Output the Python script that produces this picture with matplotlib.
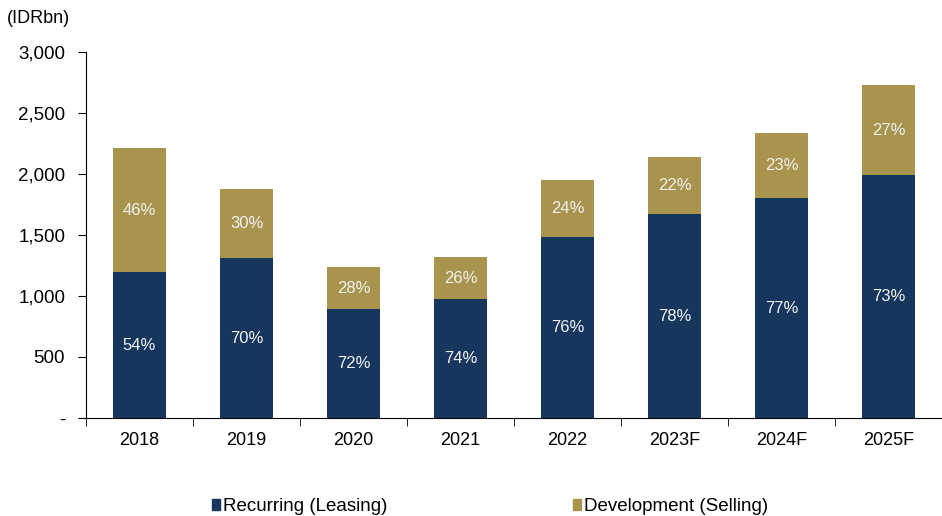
import numpy as np
import matplotlib.pyplot as plt
from matplotlib.patches import Patch
from matplotlib.ticker import FuncFormatter, FixedLocator

plt.rcParams['font.family'] = ['Liberation Sans', 'DejaVu Sans']

years = ['2018', '2019', '2020', '2021', '2022', '2023F', '2024F', '2025F']
recurring = [1195, 1310, 893, 975, 1484, 1670, 1800, 1990]
development = [1018, 565, 345, 345, 467, 469, 535, 738]
rec_pct = ['54%', '70%', '72%', '74%', '76%', '78%', '77%', '73%']
dev_pct = ['46%', '30%', '28%', '26%', '24%', '22%', '23%', '27%']

navy = '#17365D'
gold = '#A9944E'

fig = plt.figure(figsize=(9.42, 5.16), dpi=100)
ax = fig.add_axes([0.0913, 0.19, 0.9087, 0.709])

x = np.arange(len(years))
ax.bar(x, recurring, 0.5, color=navy)
ax.bar(x, development, 0.5, bottom=recurring, color=gold)

for i in range(len(years)):
    ax.text(x[i], recurring[i] / 2, rec_pct[i], ha='center', va='center',
            color='#F2F2F2', fontsize=12)
    ax.text(x[i], recurring[i] + development[i] / 2, dev_pct[i], ha='center',
            va='center', color='#F2F2F2', fontsize=12)

ax.set_xlim(-0.5, len(years) - 0.5)
ax.set_ylim(0, 3000)
ax.set_yticks(range(0, 3001, 500))
ax.yaxis.set_major_formatter(FuncFormatter(lambda v, p: '-' if v == 0 else '{:,.0f}'.format(v)))
ax.set_xticks(x)
ax.set_xticklabels(years)
ax.xaxis.set_minor_locator(FixedLocator(np.arange(-0.5, len(years), 1.0)))
ax.tick_params(axis='x', which='major', length=0, pad=10, labelsize=13)
ax.tick_params(axis='x', which='minor', length=6, direction='out')
ax.tick_params(axis='y', length=6, direction='out', labelsize=13.5, pad=9)
for s in ['top', 'right']:
    ax.spines[s].set_visible(False)

fig.text(0.007, 0.965, '(IDRbn)', fontsize=13, ha='left', va='center')

handles = [Patch(color=navy, label='Recurring (Leasing)'),
           Patch(color=gold, label='Development (Selling)')]
fig.legend(handles=handles, loc='center', bbox_to_anchor=(0.52, 0.018), ncol=2,
           frameon=False, fontsize=13.5, handlelength=0.45, handleheight=0.45,
           handletextpad=0.15, columnspacing=9.9)

fig.savefig('out.png', dpi=100)
